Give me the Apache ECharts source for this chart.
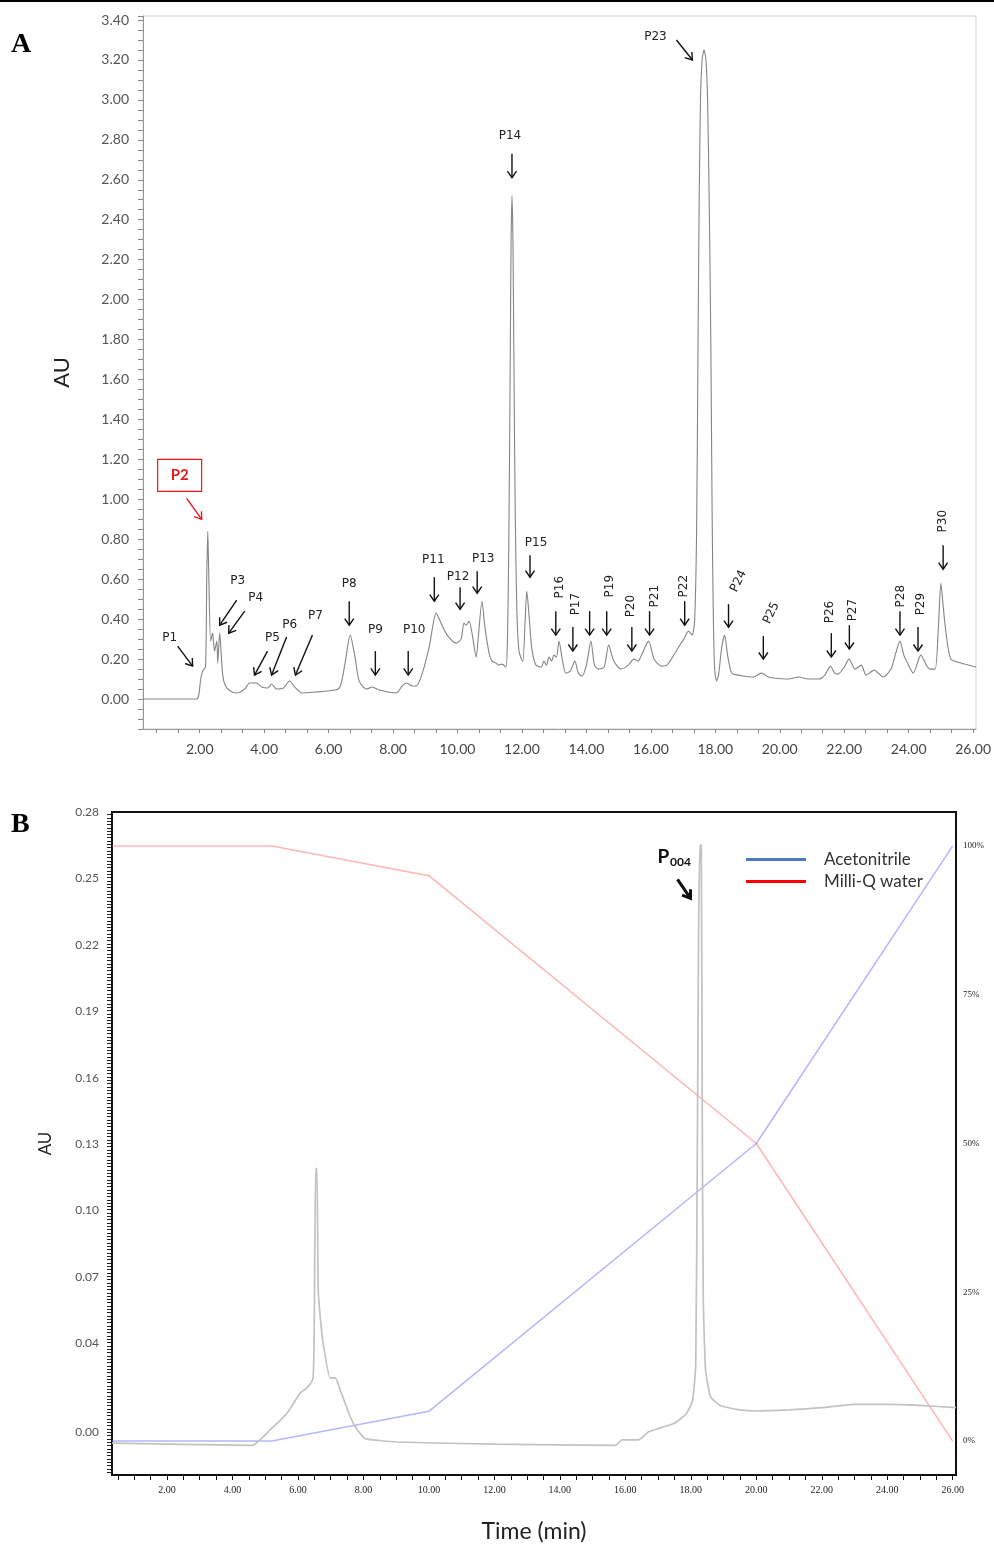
<!DOCTYPE html>
<html><head><meta charset="utf-8">
<script src="https://cdn.jsdelivr.net/npm/echarts@6/dist/echarts.min.js"></script>
<style>html,body{margin:0;padding:0;background:#fff}#c{width:994px;height:1544px}</style>
</head><body><div id="c"></div><script>
// ---------------- DATA ----------------
// Panel A: chromatogram [time (min), AU]
const chromA = [
 [0.24,0.0],[1.90,0.0],[1.97,0.02],[2.03,0.10],[2.09,0.14],[2.18,0.16],[2.22,0.63],[2.25,0.84],[2.28,0.63],[2.34,0.29],
 [2.40,0.33],[2.46,0.24],[2.53,0.29],[2.56,0.18],[2.62,0.33],[2.71,0.125],[2.80,0.065],[2.95,0.04],[3.15,0.03],[3.40,0.05],
 [3.55,0.08],[3.76,0.08],[3.92,0.06],[4.11,0.055],[4.23,0.075],[4.38,0.05],[4.60,0.055],[4.79,0.09],[4.95,0.06],[5.19,0.03],
 [5.60,0.035],[5.93,0.04],[6.33,0.055],[6.50,0.17],[6.67,0.32],[6.82,0.21],[6.95,0.09],[7.17,0.05],[7.36,0.06],[7.57,0.045],
 [8.10,0.03],[8.28,0.065],[8.41,0.08],[8.60,0.065],[8.72,0.065],[8.90,0.125],[9.12,0.26],[9.34,0.43],[9.49,0.38],[9.68,0.32],
 [9.96,0.28],[10.11,0.30],[10.20,0.38],[10.27,0.37],[10.36,0.39],[10.45,0.33],[10.58,0.21],[10.64,0.30],[10.76,0.49],[10.85,0.36],
 [10.98,0.23],[11.07,0.19],[11.19,0.18],[11.29,0.17],[11.38,0.175],[11.50,0.16],[11.55,0.30],[11.59,0.75],[11.63,1.55],[11.66,2.25],
 [11.69,2.52],[11.72,2.30],[11.75,1.70],[11.79,0.95],[11.84,0.45],[11.90,0.25],[11.98,0.20],[12.03,0.19],[12.10,0.40],[12.15,0.54],
 [12.22,0.42],[12.30,0.26],[12.43,0.17],[12.60,0.16],[12.68,0.19],[12.76,0.17],[12.84,0.21],[12.92,0.19],[12.99,0.22],[13.07,0.21],
 [13.15,0.29],[13.25,0.20],[13.36,0.13],[13.50,0.14],[13.64,0.19],[13.75,0.13],[13.86,0.115],[14.00,0.17],[14.14,0.29],[14.25,0.17],
 [14.38,0.15],[14.55,0.16],[14.69,0.27],[14.85,0.19],[15.07,0.15],[15.30,0.17],[15.47,0.20],[15.60,0.19],[15.71,0.22],[15.93,0.29],
 [16.10,0.20],[16.33,0.165],[16.50,0.17],[16.71,0.22],[16.90,0.27],[17.02,0.30],[17.17,0.34],[17.28,0.32],[17.36,0.40],[17.42,0.85],
 [17.46,1.70],[17.50,2.50],[17.54,3.00],[17.59,3.20],[17.65,3.25],[17.71,3.20],[17.76,3.00],[17.81,2.50],[17.86,1.80],[17.90,0.95],
 [17.94,0.40],[17.98,0.15],[18.04,0.09],[18.10,0.12],[18.20,0.26],[18.29,0.32],[18.38,0.22],[18.48,0.14],[18.56,0.125],[18.87,0.115],
 [19.18,0.11],[19.43,0.13],[19.65,0.11],[19.80,0.105],[20.27,0.10],[20.58,0.11],[20.89,0.10],[21.20,0.10],[21.40,0.12],[21.57,0.165],
 [21.70,0.13],[21.81,0.125],[22.00,0.16],[22.15,0.20],[22.34,0.15],[22.53,0.17],[22.68,0.12],[22.93,0.145],[23.21,0.11],[23.45,0.15],
 [23.60,0.23],[23.73,0.29],[23.85,0.22],[23.98,0.175],[24.14,0.13],[24.38,0.22],[24.55,0.17],[24.66,0.15],[24.82,0.15],[24.92,0.35],
 [25.00,0.58],[25.08,0.45],[25.16,0.33],[25.31,0.20],[25.62,0.18],[26.09,0.16]
];
// Panel A peak annotations
const peakNames = ['P1','P2','P3','P4','P5','P6','P7','P8','P9','P10','P11','P12','P13','P14','P15',
  'P16','P17','P18','P19','P20','P21','P22','P23','P24','P25','P26','P27','P28','P29','P30'];
const peakTipTime = [1.78,2.06,2.62,2.90,3.70,4.23,4.97,6.64,7.45,8.47,9.28,10.08,10.61,11.69,12.25,
  13.05,13.58,14.10,14.63,15.41,15.96,17.05,17.29,18.41,19.49,21.60,22.16,23.73,24.29,25.07];
const peakTipAU = [0.165,0.90,0.37,0.33,0.12,0.12,0.12,0.37,0.12,0.12,0.49,0.45,0.53,2.61,0.61,
  0.32,0.24,0.32,0.32,0.24,0.32,0.37,3.20,0.36,0.20,0.21,0.25,0.32,0.24,0.65];
// Axis tick labels
const xLabelsA = [2,4,6,8,10,12,14,16,18,20,22,24,26];
const yLabelsA = [0,0.2,0.4,0.6,0.8,1.0,1.2,1.4,1.6,1.8,2.0,2.2,2.4,2.6,2.8,3.0,3.2,3.4];

// Panel B: chromatogram [time (min), AU]
const chromB = [
 [0.32,-0.005],[4.60,-0.006],[5.15,0.001],[5.67,0.0086],[6.07,0.0176],[6.28,0.020],[6.46,0.024],[6.50,0.052],[6.54,0.119],[6.58,0.119],
 [6.62,0.064],[6.68,0.052],[6.77,0.040],[6.98,0.0245],[7.14,0.0245],[7.29,0.019],[7.60,0.0068],[7.81,0.001],[8.06,-0.003],[9.03,-0.0045],
 [12.00,-0.0055],[15.70,-0.006],[15.90,-0.0035],[16.40,-0.0035],[16.70,0.0],[17.10,0.002],[17.50,0.004],[17.85,0.008],[18.05,0.014],[18.15,0.03],
 [18.20,0.13],[18.24,0.23],[18.28,0.265],[18.32,0.265],[18.35,0.14],[18.38,0.06],[18.45,0.028],[18.60,0.016],[18.90,0.012],[19.50,0.010],
 [20.00,0.0095],[21.00,0.010],[22.00,0.011],[23.00,0.0125],[24.00,0.0125],[25.00,0.012],[26.10,0.011]
];
// Gradient (%)
const gradTime = [0.32, 5.2, 10.0, 20.0, 26.0];
const acetonitrile = [0, 0, 5, 50, 100];
const milliQWater = [100, 100, 95, 50, 0];
const xLabelsB = [2,4,6,8,10,12,14,16,18,20,22,24,26];
const yLabelsB = [0,0.04,0.07,0.10,0.13,0.16,0.19,0.22,0.25,0.28];
const pctLabelsB = [0,25,50,75,100];
const p004Tip = [17.99, 0.241];

// ---------------- STYLE ----------------
const SANS = 'Lato, "Open Sans", sans-serif';
const SERIF = '"Liberation Serif", "DejaVu Serif", serif';
const X_MIN_B = 0.32;
// arrow vector tail->tip (px), label offset from tip (px), label rotation (deg)
const annStyleA = [
 {v:[15,20], l:[-23,-28], r:0},
 {v:[15,21], l:[-23,-44], r:0, red:true},
 {v:[-17,25], l:[18,-44], r:0},
 {v:[-16,22], l:[27,-35], r:0},
 {v:[-13,24], l:[18,-37], r:0},
 {v:[-15,38], l:[18,-50], r:0},
 {v:[-17,40], l:[20,-59], r:0},
 {v:[0,24], l:[0,-41], r:0},
 {v:[0,24], l:[0,-45], r:0},
 {v:[0,24], l:[6,-45], r:0},
 {v:[0,24], l:[-1,-41], r:0},
 {v:[0,22], l:[-2,-32], r:0},
 {v:[0,22], l:[6,-34], r:0},
 {v:[0,24], l:[-2,-42], r:0},
 {v:[0,22], l:[6,-34], r:0},
 {v:[0,24], l:[4,-48], r:90},
 {v:[0,24], l:[3,-47], r:90},
 {v:[0,24], l:[0,0], r:0, noLabel:true},
 {v:[0,24], l:[3,-49], r:90},
 {v:[0,24], l:[-1,-45], r:90},
 {v:[0,24], l:[5,-39], r:90},
 {v:[0,24], l:[-1,-39], r:90},
 {v:[16,20], l:[-37,-23], r:0},
 {v:[0,23], l:[10,-46], r:65},
 {v:[0,23], l:[8,-46], r:65},
 {v:[0,24], l:[-1,-45], r:90},
 {v:[0,24], l:[4,-39], r:90},
 {v:[0,24], l:[1,-39], r:90},
 {v:[0,24], l:[3,-47], r:90},
 {v:[0,24], l:[0,-48], r:90}
];

function range(a, b, s) { const out = []; const n = Math.round((b - a) / s); for (let i = 0; i <= n; i++) out.push(+(a + i * s).toFixed(6)); return out; }

function arrow(tip, v, color, width, head) {
  const tail = [tip[0] - v[0], tip[1] - v[1]];
  const len = Math.hypot(v[0], v[1]); const ux = v[0] / len, uy = v[1] / len;
  const a = 0.6, c = Math.cos(a), s = Math.sin(a);
  const h1 = [tip[0] - head * (ux * c - uy * s), tip[1] - head * (ux * s + uy * c)];
  const h2 = [tip[0] - head * (ux * c + uy * s), tip[1] - head * (-ux * s + uy * c)];
  return [
    {type:'line', shape:{x1:tail[0], y1:tail[1], x2:tip[0], y2:tip[1]}, style:{stroke:color, lineWidth:width}},
    {type:'polyline', shape:{points:[h1, tip, h2]}, style:{stroke:color, lineWidth:width, fill:null}}
  ];
}

const chart = echarts.init(document.getElementById('c'), null, {renderer:'canvas', width:994, height:1544});

const option = {
  animation: false,
  backgroundColor: '#fff',
  graphic: [
    {type:'rect', left:0, top:0, shape:{width:994, height:2}, style:{fill:'#000'}},
    {type:'text', left:11, top:31, style:{text:'A', font:'bold 28px "Liberation Serif", serif', fill:'#000'}},
    {type:'text', left:11, top:811, style:{text:'B', font:'bold 28px "Liberation Serif", serif', fill:'#000'}}
  ],
  legend: {
    orient:'vertical', left:741, top:846, itemWidth:60, itemHeight:3, itemGap:5, icon:'rect',
    data:['Acetonitrile','Milli-Q water'],
    textStyle:{fontFamily:SANS, fontSize:17, color:'#333', padding:[0,0,0,13]}
  },
  grid: [
    {left:143, top:16, width:835, height:713, show:true, borderColor:'#cfcfcf', borderWidth:1},
    {left:112, top:812, width:844, height:663, show:true, borderColor:'#111', borderWidth:2}
  ],
  xAxis: [
    {gridIndex:0, type:'value', min:0.24, max:26.09,
     axisLine:{show:true, onZero:false, lineStyle:{color:'#999'}},
     axisTick:{show:true, customValues: range(2/3, 26, 2/3), length:4, lineStyle:{color:'#888'}},
     axisLabel:{customValues:xLabelsA, formatter:v=>v.toFixed(2), fontFamily:SANS, fontSize:14, color:'#444', margin:13},
     splitLine:{show:false}},
    {gridIndex:1, type:'value', min:X_MIN_B, max:26.1,
     name:'Time (min)', nameLocation:'middle', nameGap:45,
     nameTextStyle:{fontFamily:SANS, fontSize:23, color:'#222'},
     axisLine:{show:true, onZero:false, lineStyle:{color:'#111', width:2}},
     axisTick:{show:true, customValues: range(0.5, 26, 0.5), length:5, lineStyle:{color:'#111'}},
     axisLabel:{customValues:xLabelsB, formatter:v=>v.toFixed(2), fontFamily:SERIF, fontSize:10, color:'#222', margin:10},
     splitLine:{show:false}}
  ],
  yAxis: [
    {gridIndex:0, type:'value', min:-0.15, max:3.42, interval:0.05,
     name:'AU', nameLocation:'middle', nameGap:70,
     nameTextStyle:{fontFamily:SANS, fontSize:22, color:'#222'},
     axisLine:{show:true, onZero:false, lineStyle:{color:'#999'}},
     axisTick:{show:true, length:5, lineStyle:{color:'#888'}},
     axisLabel:{customValues:yLabelsA, formatter:v=>v.toFixed(2), fontFamily:SANS, fontSize:14, color:'#555', margin:14},
     splitLine:{show:false}},
    {gridIndex:1, type:'value', min:-0.0194, max:0.28,
     name:'AU', nameLocation:'middle', nameGap:58,
     nameTextStyle:{fontFamily:SANS, fontSize:17, color:'#222'},
     axisLine:{show:true, onZero:false, lineStyle:{color:'#111', width:2}},
     axisTick:{show:false},
     axisLabel:{customValues:yLabelsB, formatter:v=>v.toFixed(2), fontFamily:SANS, fontSize:12, color:'#555', margin:13},
     splitLine:{show:false}},
    {gridIndex:1, type:'value', position:'right', min:-5.7, max:105.7,
     axisLine:{show:true, onZero:false, lineStyle:{color:'#111', width:2}},
     axisTick:{show:false},
     axisLabel:{customValues:pctLabelsB, formatter:v=>v + '%', fontFamily:SERIF, fontSize:9, color:'#222', margin:7},
     splitLine:{show:false}}
  ],
  series: [
    {type:'line', name:'chromA', xAxisIndex:0, yAxisIndex:0, data:chromA, showSymbol:false, smooth:0.25,
     lineStyle:{color:'#858585', width:1.1}, z:3},
    {type:'custom', name:'annA', xAxisIndex:0, yAxisIndex:0, clip:false, z:5,
     data: peakNames.map((n, i) => [peakTipTime[i], peakTipAU[i], i]),
     renderItem: function (params, api) {
       const i = api.value(2); const st = annStyleA[i];
       const tip = api.coord([api.value(0), api.value(1)]);
       const color = st.red ? '#e8191b' : '#111';
       const children = arrow(tip, st.v, color, 1.4, 8);
       if (!st.noLabel) {
         const cx = tip[0] + st.l[0], cy = tip[1] + st.l[1];
         if (st.red) {
           children.push({type:'rect', shape:{x:cx - 21, y:cy - 16, width:44, height:32}, style:{stroke:'#e8191b', fill:null, lineWidth:1.2}});
           children.push({type:'text', x:cx + 1, y:cy, style:{text:peakNames[i], fill:'#e8191b', font:'bold 15px ' + SANS, align:'center', verticalAlign:'middle'}});
         } else {
           children.push({type:'text', x:cx, y:cy, rotation: st.r * Math.PI / 180,
             style:{text:peakNames[i], fill:'#222', font:'12px "DejaVu Sans", sans-serif', align:'center', verticalAlign:'middle'}});
         }
       }
       return {type:'group', children:children};
     }},
    {type:'line', name:'chromB', xAxisIndex:1, yAxisIndex:1, data:chromB, showSymbol:false, smooth:0.15,
     lineStyle:{color:'#c2c2c2', width:1.7}, z:3},
    {type:'line', name:'Acetonitrile', xAxisIndex:1, yAxisIndex:2, data:gradTime.map((t, i) => [t, acetonitrile[i]]),
     showSymbol:false, itemStyle:{color:'#4a7bc4'}, lineStyle:{color:'rgba(110,110,255,0.5)', width:1.5}, z:2},
    {type:'line', name:'Milli-Q water', xAxisIndex:1, yAxisIndex:2, data:gradTime.map((t, i) => [t, milliQWater[i]]),
     showSymbol:false, itemStyle:{color:'#ff0000'}, lineStyle:{color:'rgba(255,90,90,0.45)', width:1.5}, z:2},
    // dense ruler ticks on the left AU axis of panel B
    {type:'custom', name:'ticksB', xAxisIndex:1, yAxisIndex:1, clip:false, z:6, silent:true,
     data: range(-0.018, 0.279, 0.0015).map(v => [X_MIN_B, v]),
     renderItem: function (params, api) {
       const p = api.coord([api.value(0), api.value(1)]);
       const y = Math.round(p[1]) + 0.5;
       return {type:'line', shape:{x1:p[0] - 5, y1:y, x2:p[0] - 1, y2:y}, style:{stroke:'#222', lineWidth:1}};
     }},
    {type:'custom', name:'annB', xAxisIndex:1, yAxisIndex:1, clip:false, z:5,
     data:[[p004Tip[0], p004Tip[1]]],
     renderItem: function (params, api) {
       const tip = api.coord([api.value(0), api.value(1)]);
       const children = arrow(tip, [13, 19], '#111', 3, 9);
       children.push({type:'text', x:tip[0] - 27, y:tip[1] - 41, style:{text:'P', fill:'#111', font:'bold 19px ' + SANS, align:'center', verticalAlign:'middle'}});
       children.push({type:'text', x:tip[0] - 10, y:tip[1] - 36, style:{text:'004', fill:'#111', font:'bold 12px ' + SANS, align:'center', verticalAlign:'middle'}});
       return {type:'group', children:children};
     }}
  ]
};
chart.setOption(option);
</script></body></html>
